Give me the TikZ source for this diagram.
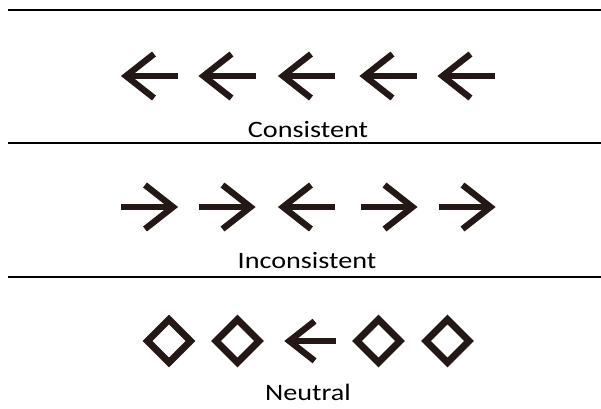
\documentclass[tikz,border=0pt]{standalone}
\usepackage{fontspec}
\setmainfont{Carlito}[FakeStretch=1.2]
\usepackage{tikz}
\usetikzlibrary{positioning}
\definecolor{stimink}{RGB}{35,24,21}
\tikzset{
  rowrule/.style={line width=2.2pt, black},
  stimstroke/.style={
    line width=6.3pt, draw=stimink, line join=miter, line cap=butt
  },
  condlabel/.style={
    font=\fontsize{23.5}{28}\selectfont, anchor=base, inner sep=0pt
  },
  larrow/.pic={
    \draw[stimstroke] (28.5,0) -- (-23.5,0);
    \draw[stimstroke] (4.5,-22) -- (-23.5,0) -- (4.5,22);
  },
  rarrow/.pic={
    \draw[stimstroke] (-28.5,0) -- (23.5,0);
    \draw[stimstroke] (-4.5,-22) -- (23.5,0) -- (-4.5,22);
  },
  flankdiamond/.pic={
    \draw[stimstroke, line width=6.8pt] (0,-21.5) -- (21.5,0) -- (0,21.5) -- (-21.5,0) -- cycle;
  },
}

\begin{document}
\begin{tikzpicture}[x=1pt, y=-1pt]
  \useasboundingbox (0,0) rectangle (601,408);

  % --- Rules between conditions ---
  \draw[rowrule] (8,10) -- (601,10);
  \draw[rowrule] (8,142.7) -- (601,142.7);
  \draw[rowrule] (8,276.7) -- (601,276.7);

  % --- Consistent ---
  \pic at (149.5,76) {larrow};
  \pic at (227,76) {larrow};
  \pic at (306.5,76) {larrow};
  \pic at (388,76) {larrow};
  \pic at (466,76) {larrow};
  \node[condlabel] (cons) at (308,137) {Consistent};

  % --- Inconsistent ---
  \pic at (149.5,207) {rarrow};
  \pic at (227,207) {rarrow};
  \pic at (306.5,207) {larrow};
  \pic at (389,207) {rarrow};
  \pic at (467,207) {rarrow};
  \node[condlabel] (incons) at (307,268) {Inconsistent};

  % --- Neutral ---
  \pic at (169,341) {flankdiamond};
  \pic at (237.5,341) {flankdiamond};
  \pic[scale=0.9] at (310.5,341) {larrow};
  \pic at (378.5,341) {flankdiamond};
  \pic at (447.5,341) {flankdiamond};
  \node[condlabel] (neut) at (308,400) {Neutral};

\end{tikzpicture}
\end{document}
